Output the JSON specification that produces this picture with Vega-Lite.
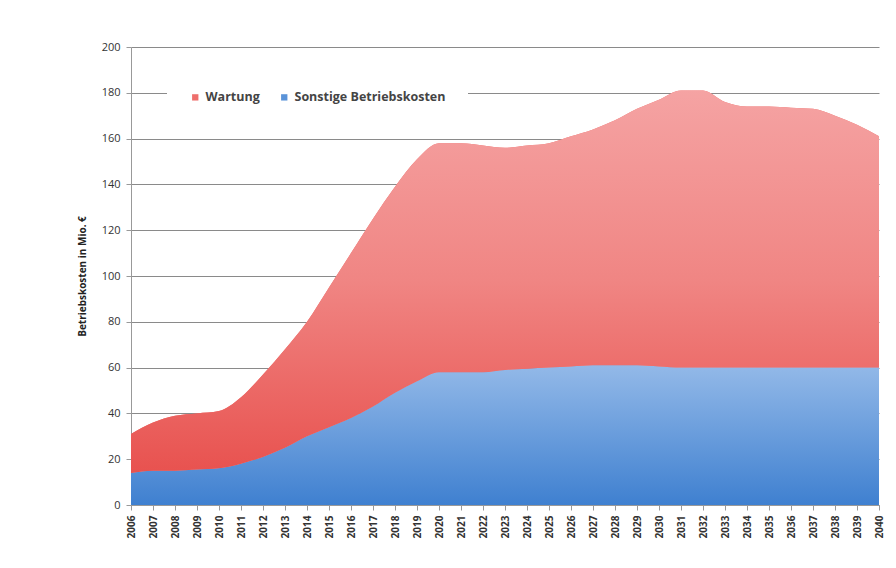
{
  "$schema": "https://vega.github.io/schema/vega-lite/v6.json",
  "autosize": "none",
  "width": 748,
  "height": 458,
  "padding": {"left": 131, "top": 47, "right": 17, "bottom": 63},
  "background": "white",
  "config": {"view": {"stroke": null}, "font": "Open Sans"},
  "data": {"values": [
    {"year": "2006", "series": "Sonstige Betriebskosten", "value": 14}, {"year": "2006", "series": "Wartung", "value": 17},
    {"year": "2007", "series": "Sonstige Betriebskosten", "value": 15}, {"year": "2007", "series": "Wartung", "value": 21},
    {"year": "2008", "series": "Sonstige Betriebskosten", "value": 15}, {"year": "2008", "series": "Wartung", "value": 24},
    {"year": "2009", "series": "Sonstige Betriebskosten", "value": 15.5}, {"year": "2009", "series": "Wartung", "value": 24.5},
    {"year": "2010", "series": "Sonstige Betriebskosten", "value": 16}, {"year": "2010", "series": "Wartung", "value": 25},
    {"year": "2011", "series": "Sonstige Betriebskosten", "value": 18}, {"year": "2011", "series": "Wartung", "value": 29},
    {"year": "2012", "series": "Sonstige Betriebskosten", "value": 21}, {"year": "2012", "series": "Wartung", "value": 36},
    {"year": "2013", "series": "Sonstige Betriebskosten", "value": 25}, {"year": "2013", "series": "Wartung", "value": 43},
    {"year": "2014", "series": "Sonstige Betriebskosten", "value": 30}, {"year": "2014", "series": "Wartung", "value": 50},
    {"year": "2015", "series": "Sonstige Betriebskosten", "value": 34}, {"year": "2015", "series": "Wartung", "value": 61},
    {"year": "2016", "series": "Sonstige Betriebskosten", "value": 38}, {"year": "2016", "series": "Wartung", "value": 72},
    {"year": "2017", "series": "Sonstige Betriebskosten", "value": 43}, {"year": "2017", "series": "Wartung", "value": 82},
    {"year": "2018", "series": "Sonstige Betriebskosten", "value": 49}, {"year": "2018", "series": "Wartung", "value": 90},
    {"year": "2019", "series": "Sonstige Betriebskosten", "value": 54}, {"year": "2019", "series": "Wartung", "value": 97},
    {"year": "2020", "series": "Sonstige Betriebskosten", "value": 58}, {"year": "2020", "series": "Wartung", "value": 100},
    {"year": "2021", "series": "Sonstige Betriebskosten", "value": 58}, {"year": "2021", "series": "Wartung", "value": 100},
    {"year": "2022", "series": "Sonstige Betriebskosten", "value": 58}, {"year": "2022", "series": "Wartung", "value": 99},
    {"year": "2023", "series": "Sonstige Betriebskosten", "value": 59}, {"year": "2023", "series": "Wartung", "value": 97},
    {"year": "2024", "series": "Sonstige Betriebskosten", "value": 59.5}, {"year": "2024", "series": "Wartung", "value": 97.5},
    {"year": "2025", "series": "Sonstige Betriebskosten", "value": 60}, {"year": "2025", "series": "Wartung", "value": 98},
    {"year": "2026", "series": "Sonstige Betriebskosten", "value": 60.5}, {"year": "2026", "series": "Wartung", "value": 100.5},
    {"year": "2027", "series": "Sonstige Betriebskosten", "value": 61}, {"year": "2027", "series": "Wartung", "value": 103},
    {"year": "2028", "series": "Sonstige Betriebskosten", "value": 61}, {"year": "2028", "series": "Wartung", "value": 107},
    {"year": "2029", "series": "Sonstige Betriebskosten", "value": 61}, {"year": "2029", "series": "Wartung", "value": 112},
    {"year": "2030", "series": "Sonstige Betriebskosten", "value": 60.5}, {"year": "2030", "series": "Wartung", "value": 116.5},
    {"year": "2031", "series": "Sonstige Betriebskosten", "value": 60}, {"year": "2031", "series": "Wartung", "value": 121},
    {"year": "2032", "series": "Sonstige Betriebskosten", "value": 60}, {"year": "2032", "series": "Wartung", "value": 121},
    {"year": "2033", "series": "Sonstige Betriebskosten", "value": 60}, {"year": "2033", "series": "Wartung", "value": 116},
    {"year": "2034", "series": "Sonstige Betriebskosten", "value": 60}, {"year": "2034", "series": "Wartung", "value": 114},
    {"year": "2035", "series": "Sonstige Betriebskosten", "value": 60}, {"year": "2035", "series": "Wartung", "value": 114},
    {"year": "2036", "series": "Sonstige Betriebskosten", "value": 60}, {"year": "2036", "series": "Wartung", "value": 113.5},
    {"year": "2037", "series": "Sonstige Betriebskosten", "value": 60}, {"year": "2037", "series": "Wartung", "value": 113},
    {"year": "2038", "series": "Sonstige Betriebskosten", "value": 60}, {"year": "2038", "series": "Wartung", "value": 110},
    {"year": "2039", "series": "Sonstige Betriebskosten", "value": 60}, {"year": "2039", "series": "Wartung", "value": 106},
    {"year": "2040", "series": "Sonstige Betriebskosten", "value": 60}, {"year": "2040", "series": "Wartung", "value": 101}
  ]},
  "transform": [
    {"stack": "value", "groupby": ["year"], "sort": [{"field": "series", "order": "ascending"}], "as": ["v0", "v1"]}
  ],
  "encoding": {
    "x": {
      "field": "year", "type": "ordinal",
      "scale": {"type": "point", "padding": 0},
      "axis": {
        "title": null, "labelAngle": 270, "labelFontSize": 10, "labelFontWeight": "bold",
        "labelColor": "#333333", "labelFont": "Open Sans", "labelPadding": 5,
        "tickColor": "#999999", "tickSize": 5, "domainColor": "#999999", "grid": false
      }
    },
    "y": {
      "field": "v1", "type": "quantitative",
      "scale": {"domain": [0, 200], "nice": false},
      "axis": {
        "title": "Betriebskosten in Mio. €", "titleFontSize": 10, "titleFontWeight": "bold",
        "titleColor": "#222222", "titlePadding": 14,
        "values": [0, 20, 40, 60, 80, 100, 120, 140, 160, 180, 200],
        "labelFontSize": 11, "labelColor": "#333333", "labelPadding": 6,
        "tickColor": "#999999", "tickSize": 5, "domainColor": "#999999",
        "grid": true, "gridColor": "#8a8a8a", "gridWidth": 1
      }
    },
    "y2": {"field": "v0"}
  },
  "layer": [
    {
      "mark": {"type": "area", "interpolate": "monotone"},
      "encoding": {
        "color": {
          "field": "series", "type": "nominal",
          "scale": {"domain": ["Wartung", "Sonstige Betriebskosten"], "range": ["#ee6f6c", "#5a93d8"]},
          "legend": {
            "title": null, "orient": "none", "direction": "horizontal",
            "legendX": 36, "legendY": 22, "symbolType": "square", "symbolSize": 40,
            "labelFontSize": 12.5, "labelFontWeight": "bold", "labelColor": "#444444",
            "fillColor": "white", "padding": 22, "columnPadding": 18, "symbolOffset": 0
          }
        }
      }
    },
    {
      "transform": [{"filter": "datum.series === 'Sonstige Betriebskosten'"}],
      "mark": {
        "type": "area", "interpolate": "monotone",
        "color": {"gradient": "linear", "x1": 0, "y1": 0, "x2": 0, "y2": 1,
          "stops": [{"offset": 0, "color": "#93b9e8"}, {"offset": 1, "color": "#3f80d0"}]}
      }
    },
    {
      "transform": [{"filter": "datum.series === 'Wartung'"}],
      "mark": {
        "type": "area", "interpolate": "monotone",
        "color": {"gradient": "linear", "x1": 0, "y1": 0, "x2": 0, "y2": 1,
          "stops": [{"offset": 0, "color": "#f5a3a3"}, {"offset": 0.5, "color": "#f08583"}, {"offset": 1, "color": "#e8524f"}]}
      }
    }
  ]
}
